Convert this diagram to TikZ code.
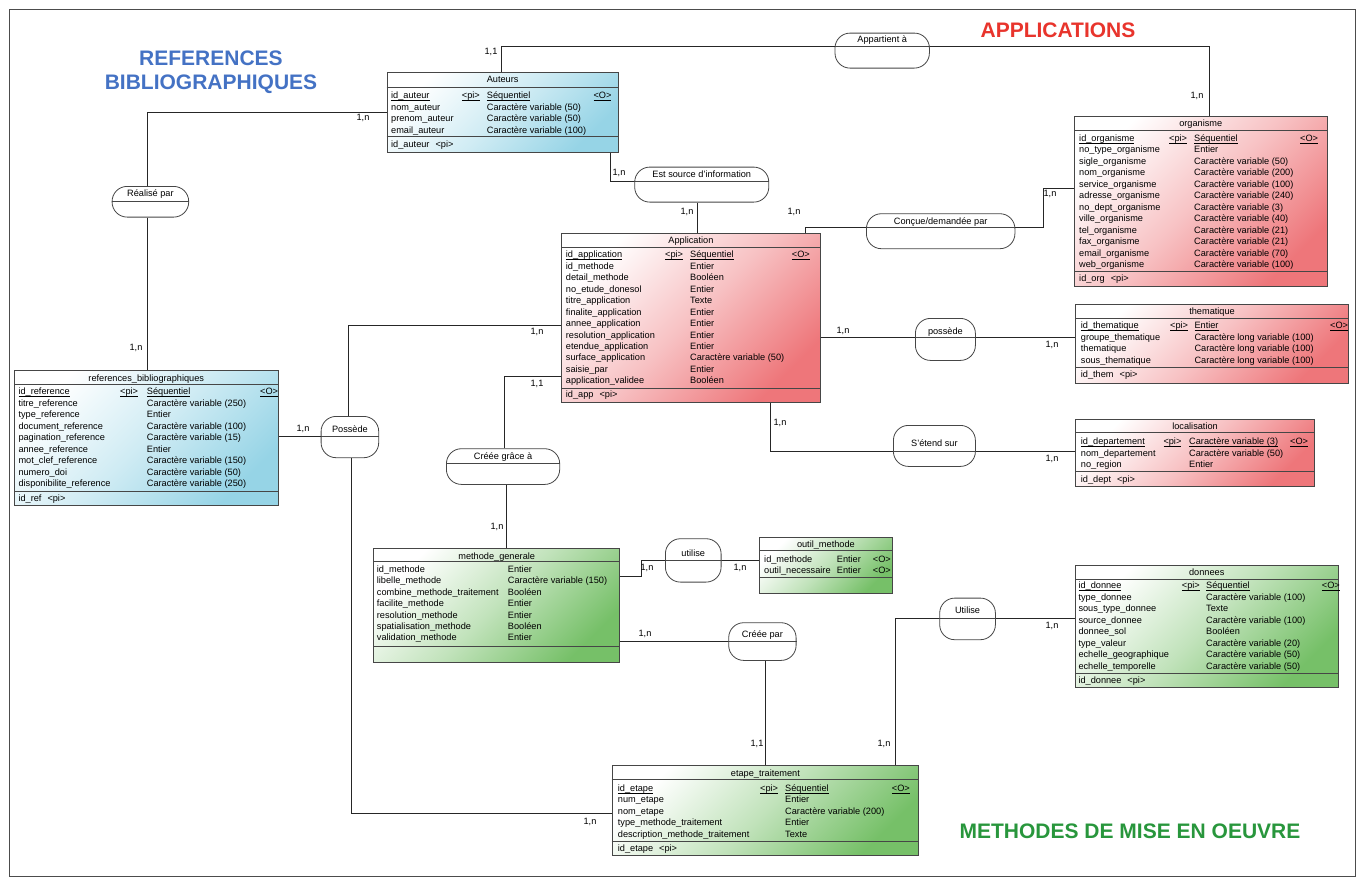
\documentclass[tikz,border=0pt]{standalone}
\usepackage{fontspec}
\setmainfont{Liberation Sans}
\usepackage{tikz}
\usetikzlibrary{positioning}
\definecolor{tborder}{RGB}{70,70,70}
\definecolor{tblue}{RGB}{150,212,230}
\definecolor{tred}{RGB}{238,118,122}
\definecolor{tgreen}{RGB}{118,192,104}
\definecolor{titleblue}{RGB}{68,114,196}
\definecolor{titlered}{RGB}{232,52,44}
\definecolor{titlegreen}{RGB}{40,150,60}
\newcommand{\mcdfont}{\fontsize{9.2}{11.45}\selectfont}
\newcommand{\zonefont}{\fontsize{21}{24}\selectfont\bfseries}
\newcommand{\pk}[1]{\underline{\smash{#1}}}
\tikzset{
  entite/.style={draw=tborder,line width=0.8pt,top color=white,bottom color=#1,
    middle color=#1!45,shading angle=45,anchor=north west,inner sep=0pt},
  asso/.style={draw=tborder,line width=0.8pt,fill=white,rounded corners=15pt,
    anchor=north west,inner sep=0pt},
  trait/.style={draw=tborder,line width=0.8pt},
  lien/.style={draw=black!85,line width=0.8pt},
  txt/.style={font=\mcdfont,inner sep=0pt,anchor=base},
  rows/.style={font=\mcdfont,inner sep=0pt,anchor=north west},
  card/.style={font=\mcdfont,inner sep=0pt},
  zone/.style={font=\zonefont,align=center,inner sep=0pt}
}
\begin{document}
\begin{tikzpicture}[x=1pt,y=-1pt]
\useasboundingbox (0,0) rectangle (1363,879);
\draw[black!70,line width=0.8pt] (9,9) rectangle (1355,876);

\node[zone,text=titleblue] (zref) at (211,72) {REFERENCES\\BIBLIOGRAPHIQUES};
\node[zone,text=titlered] (zapp) at (1058,30) {APPLICATIONS};
\node[zone,text=titlegreen] (zmeth) at (1130,831) {METHODES DE MISE EN OEUVRE};

% entites
\node[entite=tblue,minimum width=231pt,minimum height=79.7pt] (auteurs) at (386.7,72) {};
\draw[trait] (auteurs.west |- 0,87.5) -- (auteurs.east |- 0,87.5)
  (auteurs.west |- 0,136.5) -- (auteurs.east |- 0,136.5);
\node[txt] at (auteurs.north |- 0,82.8) {Auteurs};
\node[rows] at (391,90.7) {\begin{tabular}{@{}p{70.7pt}@{}p{25pt}@{}p{106.6pt}@{}l@{}}
  \pk{id\_auteur} & \pk{<pi>} & \pk{Séquentiel} & \pk{<O>}\\
  nom\_auteur && Caractère variable (50) &\\
  prenom\_auteur && Caractère variable (50) &\\
  email\_auteur && Caractère variable (100) &
  \end{tabular}};
\node[txt,anchor=base west] at (391,147.3) {id\_auteur\hspace{6pt}<pi>};

\node[entite=tred,minimum width=252.7pt,minimum height=169.7pt] (organisme) at (1074,116) {};
\draw[trait] (organisme.west |- 0,130.7) -- (organisme.east |- 0,130.7)
  (organisme.west |- 0,271) -- (organisme.east |- 0,271);
\node[txt] at (organisme.north |- 0,126.6) {organisme};
\node[rows] at (1079,133.3) {\begin{tabular}{@{}p{90pt}@{}p{25pt}@{}p{106pt}@{}l@{}}
  \pk{id\_organisme} & \pk{<pi>} & \pk{Séquentiel} & \pk{<O>}\\
  no\_type\_organisme && Entier &\\
  sigle\_organisme && Caractère variable (50) &\\
  nom\_organisme && Caractère variable (200) &\\
  service\_organisme && Caractère variable (100) &\\
  adresse\_organisme && Caractère variable (240) &\\
  no\_dept\_organisme && Caractère variable (3) &\\
  ville\_organisme && Caractère variable (40) &\\
  tel\_organisme && Caractère variable (21) &\\
  fax\_organisme && Caractère variable (21) &\\
  email\_organisme && Caractère variable (70) &\\
  web\_organisme && Caractère variable (100) &
  \end{tabular}};
\node[txt,anchor=base west] at (1079,281.3) {id\_org\hspace{6pt}<pi>};

\node[entite=tred,minimum width=259pt,minimum height=169pt] (application) at (561,233) {};
\draw[trait] (application.west |- 0,247.3) -- (application.east |- 0,247.3)
  (application.west |- 0,388.7) -- (application.east |- 0,388.7);
\node[txt] at (application.north |- 0,243.3) {Application};
\node[rows] at (565.7,249.7) {\begin{tabular}{@{}p{99.3pt}@{}p{25pt}@{}p{101.7pt}@{}l@{}}
  \pk{id\_application} & \pk{<pi>} & \pk{Séquentiel} & \pk{<O>}\\
  id\_methode && Entier &\\
  detail\_methode && Booléen &\\
  no\_etude\_donesol && Entier &\\
  titre\_application && Texte &\\
  finalite\_application && Entier &\\
  annee\_application && Entier &\\
  resolution\_application && Entier &\\
  etendue\_application && Entier &\\
  surface\_application && Caractère variable (50) &\\
  saisie\_par && Entier &\\
  application\_validee && Booléen &
  \end{tabular}};
\node[txt,anchor=base west] at (565.7,397.7) {id\_app\hspace{6pt}<pi>};

\node[entite=tblue,minimum width=263.7pt,minimum height=135pt] (refs) at (14,370) {};
\draw[trait] (refs.west |- 0,384.3) -- (refs.east |- 0,384.3)
  (refs.west |- 0,491.7) -- (refs.east |- 0,491.7);
\node[txt] at (refs.north |- 0,381) {references\_bibliographiques};
\node[rows] at (18.3,386.7) {\begin{tabular}{@{}p{101.7pt}@{}p{26.7pt}@{}p{113.3pt}@{}l@{}}
  \pk{id\_reference} & \pk{<pi>} & \pk{Séquentiel} & \pk{<O>}\\
  titre\_reference && Caractère variable (250) &\\
  type\_reference && Entier &\\
  document\_reference && Caractère variable (100) &\\
  pagination\_reference && Caractère variable (15) &\\
  annee\_reference && Entier &\\
  mot\_clef\_reference && Caractère variable (150) &\\
  numero\_doi && Caractère variable (50) &\\
  disponibilite\_reference && Caractère variable (250) &
  \end{tabular}};
\node[txt,anchor=base west] at (18.3,501.3) {id\_ref\hspace{6pt}<pi>};

\node[entite=tred,minimum width=273.3pt,minimum height=78.7pt] (thematique) at (1075,304) {};
\draw[trait] (thematique.west |- 0,318.3) -- (thematique.east |- 0,318.3)
  (thematique.west |- 0,367.3) -- (thematique.east |- 0,367.3);
\node[txt] at (thematique.north |- 0,314.3) {thematique};
\node[rows] at (1080.7,320.7) {\begin{tabular}{@{}p{89.3pt}@{}p{24.3pt}@{}p{135.7pt}@{}l@{}}
  \pk{id\_thematique} & \pk{<pi>} & \pk{Entier} & \pk{<O>}\\
  groupe\_thematique && Caractère long variable (100) &\\
  thematique && Caractère long variable (100) &\\
  sous\_thematique && Caractère long variable (100) &
  \end{tabular}};
\node[txt,anchor=base west] at (1080.7,377) {id\_them\hspace{6pt}<pi>};

\node[entite=tred,minimum width=239.3pt,minimum height=67pt] (localisation) at (1075,419) {};
\draw[trait] (localisation.west |- 0,432.7) -- (localisation.east |- 0,432.7)
  (localisation.west |- 0,471.7) -- (localisation.east |- 0,471.7);
\node[txt] at (localisation.north |- 0,429.3) {localisation};
\node[rows] at (1080.7,436.7) {\begin{tabular}{@{}p{82.6pt}@{}p{25.7pt}@{}p{101pt}@{}l@{}}
  \pk{id\_departement} & \pk{<pi>} & \pk{Caractère variable (3)} & \pk{<O>}\\
  nom\_departement && Caractère variable (50) &\\
  no\_region && Entier &
  \end{tabular}};
\node[txt,anchor=base west] at (1080.7,482) {id\_dept\hspace{6pt}<pi>};

\node[entite=tgreen,minimum width=246pt,minimum height=114pt] (methode) at (373.3,547.7) {};
\draw[trait] (methode.west |- 0,561.5) -- (methode.east |- 0,561.5)
  (methode.west |- 0,646.7) -- (methode.east |- 0,646.7);
\node[txt] at (methode.north |- 0,559) {methode\_generale};
\node[rows] at (376.7,564) {\begin{tabular}{@{}p{131pt}@{}l@{}}
  id\_methode & Entier\\
  libelle\_methode & Caractère variable (150)\\
  combine\_methode\_traitement & Booléen\\
  facilite\_methode & Entier\\
  resolution\_methode & Entier\\
  spatialisation\_methode & Booléen\\
  validation\_methode & Entier
  \end{tabular}};

\node[entite=tgreen,minimum width=132.4pt,minimum height=56pt] (outil) at (759.3,536.7) {};
\draw[trait] (outil.west |- 0,550) -- (outil.east |- 0,550)
  (outil.west |- 0,577) -- (outil.east |- 0,577);
\node[txt] at (outil.north |- 0,547.3) {outil\_methode};
\node[rows] at (764,554) {\begin{tabular}{@{}p{72.7pt}@{}p{36pt}@{}l@{}}
  id\_methode & Entier & <O>\\
  outil\_necessaire & Entier & <O>
  \end{tabular}};

\node[entite=tgreen,minimum width=262.7pt,minimum height=121.7pt] (donnees) at (1075,565) {};
\draw[trait] (donnees.west |- 0,579.3) -- (donnees.east |- 0,579.3)
  (donnees.west |- 0,673.3) -- (donnees.east |- 0,673.3);
\node[txt] at (donnees.north |- 0,575.6) {donnees};
\node[rows] at (1078.3,580.7) {\begin{tabular}{@{}p{103.4pt}@{}p{24.3pt}@{}p{115.7pt}@{}l@{}}
  \pk{id\_donnee} & \pk{<pi>} & \pk{Séquentiel} & \pk{<O>}\\
  type\_donnee && Caractère variable (100) &\\
  sous\_type\_donnee && Texte &\\
  source\_donnee && Caractère variable (100) &\\
  donnee\_sol && Booléen &\\
  type\_valeur && Caractère variable (20) &\\
  echelle\_geographique && Caractère variable (50) &\\
  echelle\_temporelle && Caractère variable (50) &
  \end{tabular}};
\node[txt,anchor=base west] at (1078.3,683) {id\_donnee\hspace{6pt}<pi>};

\node[entite=tgreen,minimum width=306.6pt,minimum height=90pt] (etape) at (611.7,765) {};
\draw[trait] (etape.west |- 0,779.3) -- (etape.east |- 0,779.3)
  (etape.west |- 0,841) -- (etape.east |- 0,841);
\node[txt] at (etape.north |- 0,776.6) {etape\_traitement};
\node[rows] at (617.7,783.3) {\begin{tabular}{@{}p{142.3pt}@{}p{25pt}@{}p{106.7pt}@{}l@{}}
  \pk{id\_etape} & \pk{<pi>} & \pk{Séquentiel} & \pk{<O>}\\
  num\_etape && Entier &\\
  nom\_etape && Caractère variable (200) &\\
  type\_methode\_traitement && Entier &\\
  description\_methode\_traitement && Texte &
  \end{tabular}};
\node[txt,anchor=base west] at (617.7,851.3) {id\_etape\hspace{6pt}<pi>};

% associations
\foreach \n/\x/\y/\w/\h/\s/\b/\t in {
  appart/834.6/32.7/94.4/35/46.5/42.6/Appartient à,
  estsource/634.3/166.7/134.1/35/181.7/177.3/Est source d'information,
  concue/866/213.3/148.5/35/227.3/224/Conçue{/}demandée par,
  realise/111.7/186/76.6/30.7/201/196.6/Réalisé par,
  possede/320.7/416/57.6/41.3/436.7/432/Possède,
  creegrace/446/448.3/113.3/35.7/463.3/459/Créée grâce à,
  possedeb/915/318/60/42/337.3/334.3/possède,
  etend/893/425/82/41/451/446.3/S'étend sur,
  utilise/665/538.3/55.7/43.4/560.7/556.6/utilise,
  creepar/728.3/622.3/67.4/37.7/641.3/637.3/Créée par,
  utiliseb/939.3/597.7/55.7/41.6/618.3/613.3/Utilise}{
  \node[asso,minimum width=\w pt,minimum height=\h pt] (\n) at (\x,\y) {};
  \coordinate (\n-w) at (\n.west |- 0,\s);
  \coordinate (\n-e) at (\n.east |- 0,\s);
  \draw[trait] (\n-w) -- (\n-e);
  \node[txt] at (\n.north |- 0,\b) {\t};
}

% liens
\draw[lien] (auteurs.north -| 501,0) |- (appart-w);
\draw[lien] (appart-e) -| (organisme.north -| 1209,0);
\draw[lien] (auteurs.west |- 0,112) -| (realise.north -| 147.3,0);
\draw[lien] (realise.south -| 147.3,0) -- (refs.north -| 147.3,0);
\draw[lien] (auteurs.south -| 610.4,0) |- (estsource-w);
\draw[lien] (estsource.south -| 697,0) -- (application.north -| 697,0);
\draw[lien] (application.north -| 805.6,0) |- (concue-w);
\draw[lien] (concue-e) -| (1043.6,188.3) -- (organisme.west |- 0,188.3);
\draw[lien] (refs.east |- possede-w) -- (possede-w);
\draw[lien] (possede.north -| 348.3,0) |- (application.west |- 0,325.3);
\draw[lien] (possede.south -| 351.7,0) |- (etape.west |- 0,813);
\draw[lien] (creegrace.north -| 504.3,0) |- (application.west |- 0,376.7);
\draw[lien] (creegrace.south -| 506,0) -- (methode.north -| 506,0);
\draw[lien] (application.east |- possedeb-w) -- (possedeb-w);
\draw[lien] (possedeb-e) -- (thematique.west |- possedeb-e);
\draw[lien] (application.south -| 770,0) |- (etend-w);
\draw[lien] (etend-e) -- (localisation.west |- etend-e);
\draw[lien] (methode.east |- 0,576.7) -| (641.7,560.7) -- (utilise-w);
\draw[lien] (utilise-e) -- (outil.west |- utilise-e);
\draw[lien] (methode.east |- creepar-w) -- (creepar-w);
\draw[lien] (creepar.south -| 765.5,0) -- (etape.north -| 765.5,0);
\draw[lien] (etape.north -| 895,0) |- (utiliseb-w);
\draw[lien] (utiliseb-e) -- (donnees.west |- utiliseb-e);

% cardinalites
\foreach \x/\y/\k in {491/52/1, 1197/96/n, 363/118/n, 136/348/n, 619/173/n,
  687/212/n, 794/212/n, 1050/194/n, 303/429/n, 537/332/n, 590/822/n,
  537/384/1, 497/527/n, 843/331/n, 1052/345/n, 780/423/n, 1052/459/n,
  647/568/n, 740/568/n, 645/634/n, 757/744/1, 884/744/n, 1052/626/n}
  \node[card] (c-\x-\y) at (\x,\y) {1,\k};
\end{tikzpicture}
\end{document}
